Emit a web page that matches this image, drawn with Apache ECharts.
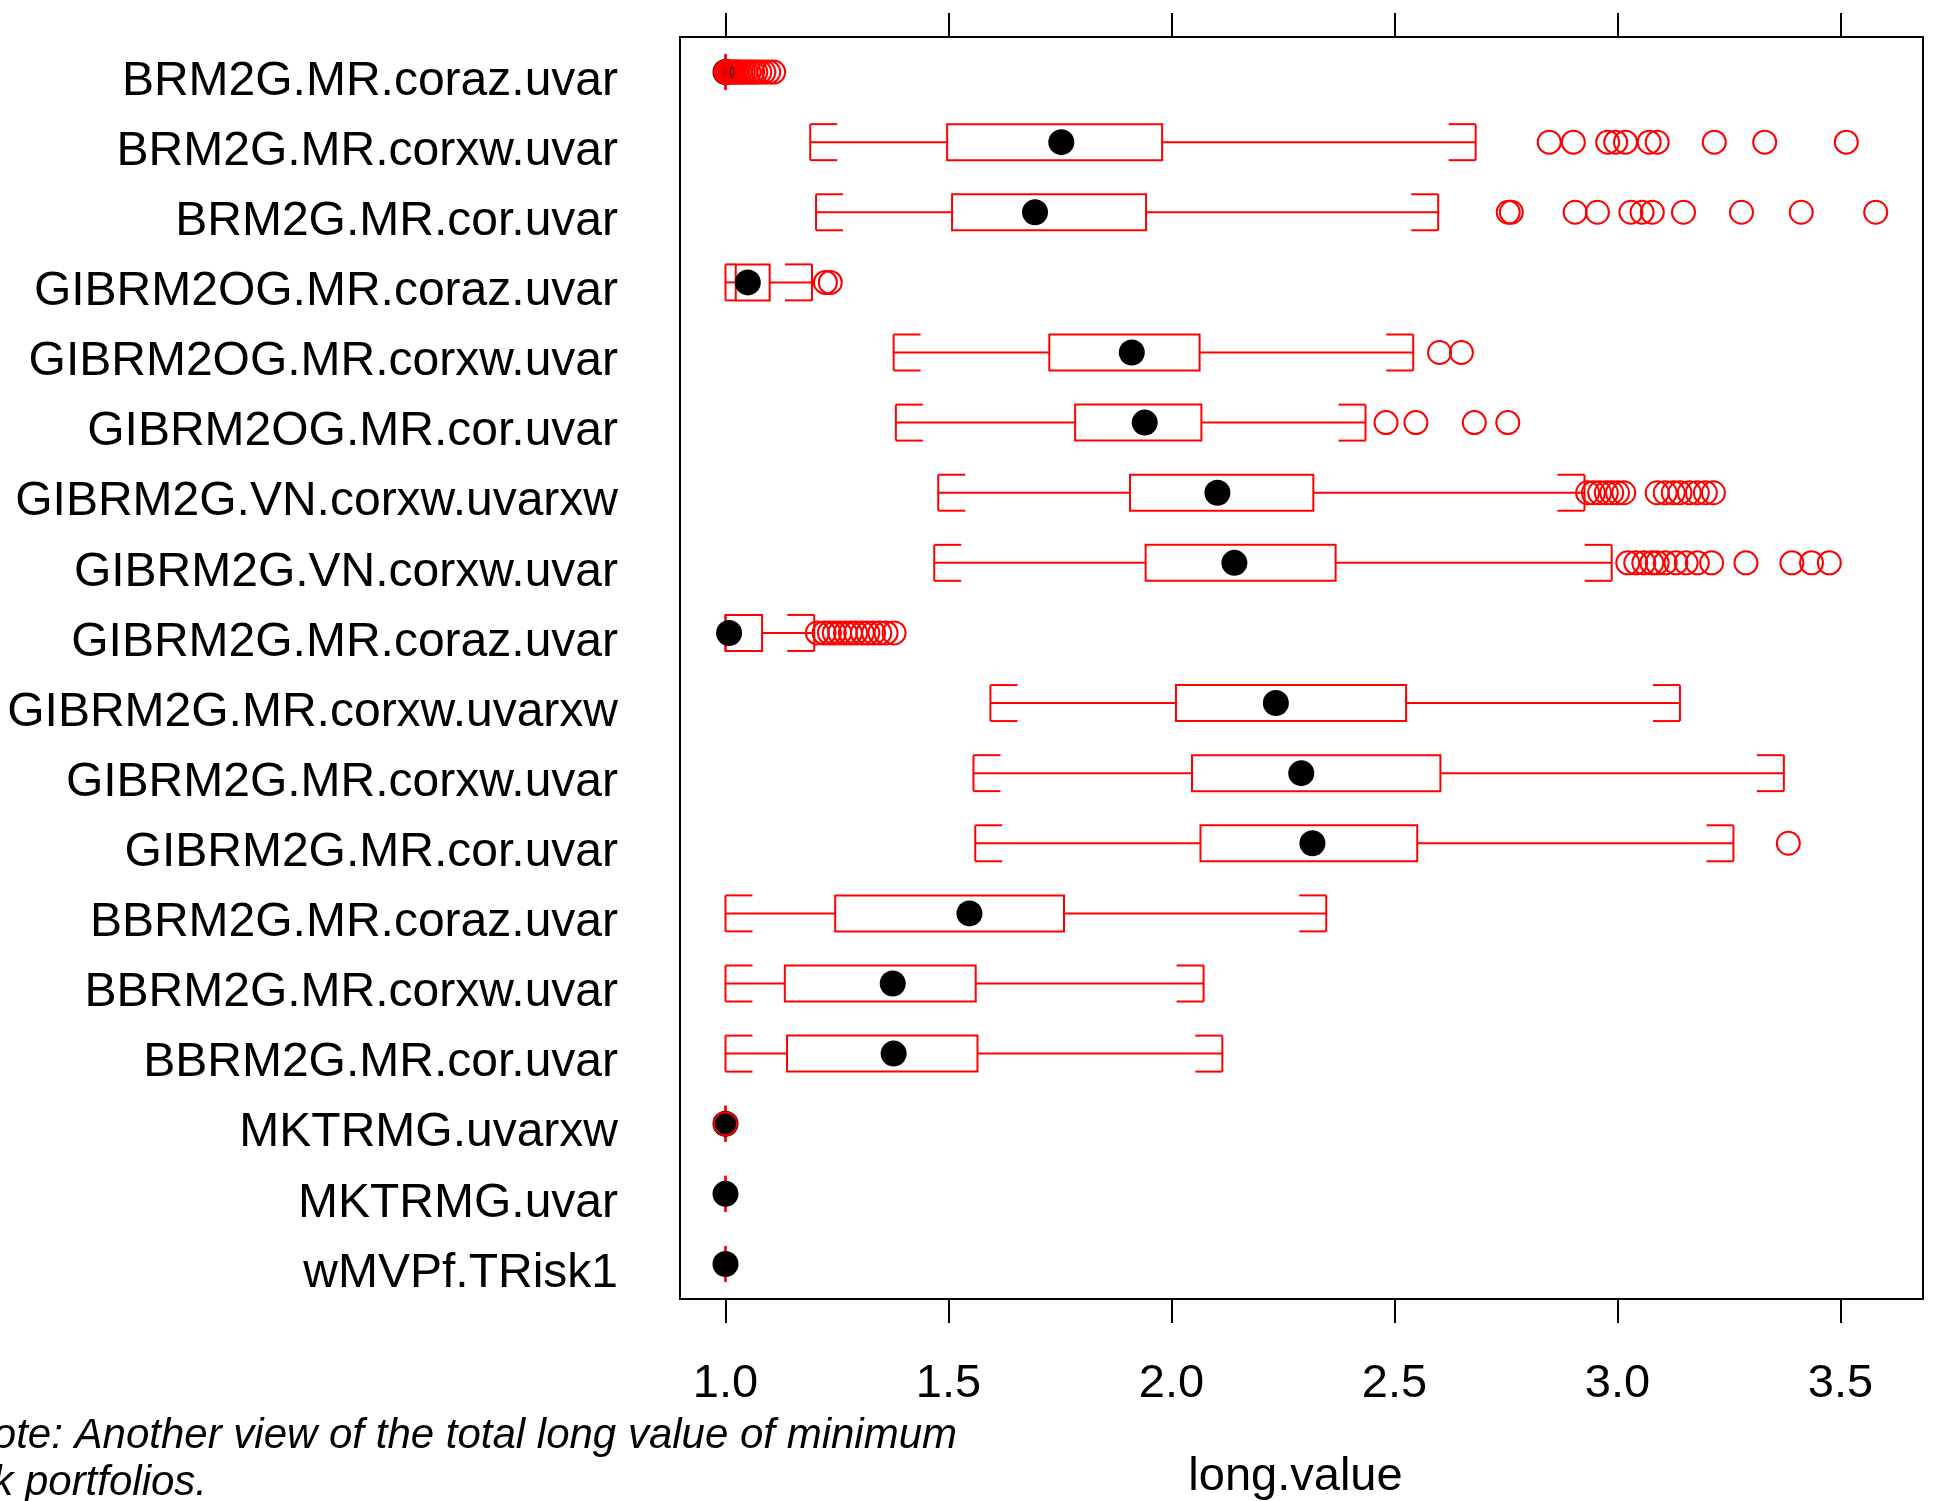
<!DOCTYPE html>
<html>
<head>
<meta charset="utf-8">
<script src="https://cdn.jsdelivr.net/npm/echarts@6/dist/echarts.min.js"></script>
<style>
  html, body { margin: 0; padding: 0; background: #fff; }
  #grid { width: 1934px; height: 1501px; }
</style>
</head>
<body>
<div id="grid"></div>
<script>
// categories, top to bottom
const categories = [
    'BRM2G.MR.coraz.uvar', 'BRM2G.MR.corxw.uvar', 'BRM2G.MR.cor.uvar',
    'GIBRM2OG.MR.coraz.uvar', 'GIBRM2OG.MR.corxw.uvar', 'GIBRM2OG.MR.cor.uvar',
    'GIBRM2G.VN.corxw.uvarxw', 'GIBRM2G.VN.corxw.uvar', 'GIBRM2G.MR.coraz.uvar',
    'GIBRM2G.MR.corxw.uvarxw', 'GIBRM2G.MR.corxw.uvar', 'GIBRM2G.MR.cor.uvar',
    'BBRM2G.MR.coraz.uvar', 'BBRM2G.MR.corxw.uvar', 'BBRM2G.MR.cor.uvar',
    'MKTRMG.uvarxw', 'MKTRMG.uvar', 'wMVPf.TRisk1'
];

const lowWhisker  = [1.0, 1.190, 1.203, 1.0, 1.377, 1.382, 1.477, 1.468, 1.0, 1.594, 1.556, 1.560, 1.0, 1.0, 1.0, 1.0, 1.0, 1.0];
const q1          = [1.0, 1.497, 1.508, 1.023, 1.726, 1.784, 1.907, 1.942, 1.0, 2.010, 2.046, 2.065, 1.246, 1.133, 1.138, 1.0, 1.0, 1.0];
const median      = [1.0, 1.753, 1.694, 1.050, 1.911, 1.940, 2.103, 2.141, 1.008, 2.234, 2.291, 2.316, 1.547, 1.375, 1.377, 1.0, 1.0, 1.0];
const q3          = [1.0, 1.979, 1.943, 1.099, 2.063, 2.067, 2.318, 2.368, 1.082, 2.526, 2.603, 2.551, 1.759, 1.561, 1.565, 1.0, 1.0, 1.0];
const highWhisker = [1.0, 2.682, 2.598, 1.194, 2.542, 2.435, 2.926, 2.987, 1.199, 3.140, 3.373, 3.260, 2.347, 2.072, 2.114, 1.0, 1.0, 1.0];

const outliers = [
    [1.0, 1.003, 1.006, 1.01, 1.014, 1.018, 1.023, 1.028, 1.033, 1.04, 1.046, 1.053, 1.061, 1.068, 1.077, 1.086, 1.097, 1.108],
    [2.847, 2.901, 2.978, 2.996, 3.018, 3.071, 3.089, 3.217, 3.330, 3.513],
    [2.755, 2.762, 2.905, 2.955, 3.030, 3.055, 3.078, 3.148, 3.278, 3.412, 3.579],
    [1.224, 1.235],
    [2.601, 2.650],
    [2.481, 2.548, 2.679, 2.754],
    [2.933, 2.946, 2.960, 2.975, 2.987, 3.000, 3.014, 3.089, 3.107, 3.125, 3.140, 3.161, 3.179, 3.197, 3.215],
    [3.023, 3.041, 3.059, 3.077, 3.089, 3.107, 3.131, 3.154, 3.179, 3.211, 3.288, 3.391, 3.435, 3.475],
    [1.206, 1.221, 1.233, 1.244, 1.256, 1.269, 1.280, 1.292, 1.307, 1.319, 1.332, 1.346, 1.360, 1.378],
    [],
    [],
    [3.383],
    [],
    [],
    [],
    [1.0],
    [],
    []
];

const tickValues = [1.0, 1.5, 2.0, 2.5, 3.0, 3.5];

const boxData = categories.map(function (c, i) {
    return [i, lowWhisker[i], q1[i], median[i], q3[i], highWhisker[i]];
});
const medianData = categories.map(function (c, i) {
    return [median[i], i];
});
let outlierData = [];
outliers.forEach(function (list, i) {
    list.forEach(function (v) {
        outlierData.push([v, i]);
    });
});

const RED = '#ff0000';
const FONT = 'Liberation Sans';

function renderBox(params, api) {
    const idx = api.value(0);
    const pLow = api.coord([api.value(1), idx]);
    const pQ1 = api.coord([api.value(2), idx]);
    const pQ3 = api.coord([api.value(4), idx]);
    const pHigh = api.coord([api.value(5), idx]);
    const cy = pLow[1];
    const half = 18;
    const stubL = Math.min(27, pQ1[0] - pLow[0]);
    const stubR = Math.min(27, pHigh[0] - pQ3[0]);
    const style = { stroke: RED, lineWidth: 2, fill: null };
    const line = function (x1, y1, x2, y2) {
        return { type: 'line', shape: { x1: x1, y1: y1, x2: x2, y2: y2 }, style: style };
    };
    let children = [
        line(pLow[0], cy, pQ1[0], cy),
        line(pQ3[0], cy, pHigh[0], cy),
        line(pLow[0], cy - half, pLow[0], cy + half),
        line(pHigh[0], cy - half, pHigh[0], cy + half),
        {
            type: 'rect',
            shape: { x: pQ1[0], y: cy - half, width: pQ3[0] - pQ1[0], height: half * 2 },
            style: style
        }
    ];
    if (stubL > 0) {
        children.push(line(pLow[0], cy - half, pLow[0] + stubL, cy - half));
        children.push(line(pLow[0], cy + half, pLow[0] + stubL, cy + half));
    }
    if (stubR > 0) {
        children.push(line(pHigh[0] - stubR, cy - half, pHigh[0], cy - half));
        children.push(line(pHigh[0] - stubR, cy + half, pHigh[0], cy + half));
    }
    return { type: 'group', children: children };
}

option = {
    animation: false,
    backgroundColor: '#fff',
    grid: {
        left: 680,
        right: 11,
        top: 37,
        bottom: 202,
        outerBoundsMode: 'none',
        containLabel: false,
        show: true,
        borderColor: '#000',
        borderWidth: 2,
        backgroundColor: 'transparent'
    },
    xAxis: [{
        type: 'value',
        position: 'bottom',
        min: 0.898,
        max: 3.685,
        axisLine: { show: true, lineStyle: { color: '#000', width: 2 } },
        splitLine: { show: false },
        axisTick: {
            show: true,
            customValues: tickValues,
            length: 24,
            lineStyle: { color: '#000', width: 2 }
        },
        axisLabel: {
            customValues: tickValues,
            formatter: function (v) { return v.toFixed(1); },
            fontSize: 47,
            fontFamily: FONT,
            color: '#000',
            margin: 62
        },
        name: 'long.value',
        nameLocation: 'middle',
        nameGap: 155,
        nameTextStyle: { fontSize: 47, fontFamily: FONT, color: '#000', padding: [0, 12, 0, 0] }
    }, {
        type: 'value',
        position: 'top',
        min: 0.898,
        max: 3.685,
        axisLine: { show: true, lineStyle: { color: '#000', width: 2 } },
        splitLine: { show: false },
        axisTick: {
            show: true,
            customValues: tickValues,
            length: 24,
            lineStyle: { color: '#000', width: 2 }
        },
        axisLabel: { show: false }
    }],
    yAxis: {
        type: 'category',
        data: categories,
        inverse: true,
        axisLine: { show: false },
        axisTick: { show: false },
        splitLine: { show: false },
        axisLabel: {
            fontSize: 48,
            fontFamily: FONT,
            color: '#000',
            margin: 62,
            verticalAlign: 'top',
            lineHeight: 19
        }
    },
    graphic: [{
        type: 'text',
        style: {
            text: 'Note: Another view of the total long value of minimum',
            x: 957,
            y: 1436,
            align: 'right',
            verticalAlign: 'middle',
            font: 'italic 42px "Liberation Sans"',
            fill: '#000'
        }
    }, {
        type: 'text',
        style: {
            text: 'risk portfolios.',
            x: 207,
            y: 1483,
            align: 'right',
            verticalAlign: 'middle',
            font: 'italic 42px "Liberation Sans"',
            fill: '#000'
        }
    }],
    series: [{
        name: 'box',
        type: 'custom',
        renderItem: renderBox,
        encode: { x: [1, 2, 3, 4, 5], y: 0 },
        data: boxData,
        z: 2
    }, {
        name: 'median',
        type: 'scatter',
        symbol: 'circle',
        symbolSize: 26,
        itemStyle: { color: '#000', opacity: 1 },
        data: medianData,
        z: 3
    }, {
        name: 'outlier',
        type: 'scatter',
        symbol: 'circle',
        symbolSize: 23,
        itemStyle: { color: 'transparent', borderColor: RED, borderWidth: 2, opacity: 1 },
        data: outlierData,
        z: 4
    }]
};

let myChart = echarts.init(document.getElementById('grid'));
myChart.setOption(option);
</script>
</body>
</html>
